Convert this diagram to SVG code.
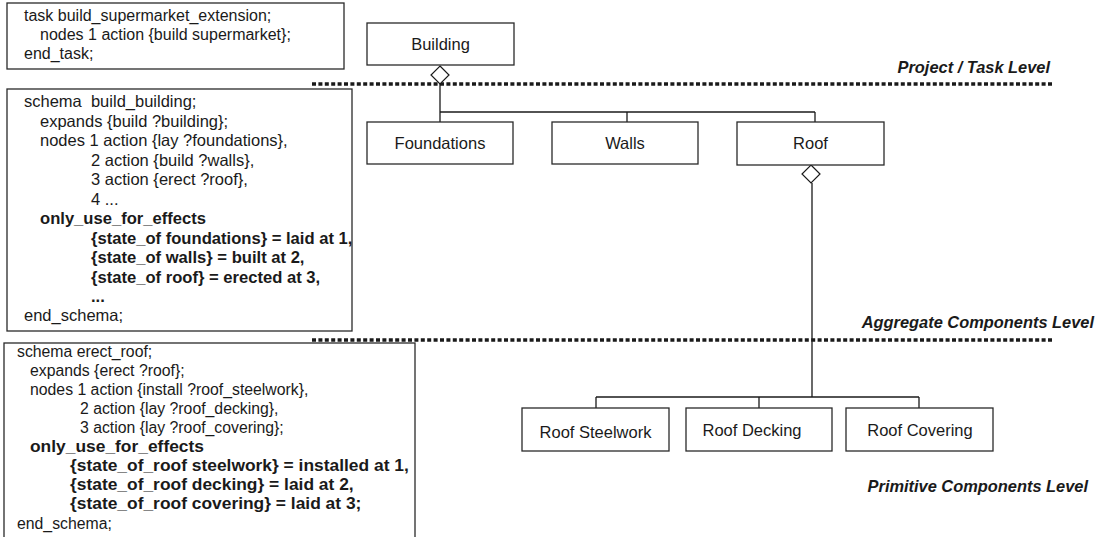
<svg xmlns="http://www.w3.org/2000/svg" width="1096" height="537" viewBox="0 0 1096 537">
<style>
.bg{fill:#ffffff}
.box{fill:#ffffff;stroke:#2a2a2a;stroke-width:1.3}
.code{font-family:"Liberation Sans",Arial,sans-serif;fill:#1a1a1a}
.b{font-weight:bold}
.node{fill:#ffffff;stroke:#2a2a2a;stroke-width:1.3}
.label{font-family:"Liberation Sans",Arial,sans-serif;font-size:16.5px;fill:#1a1a1a;text-anchor:middle}
.lvl{font-family:"Liberation Sans",Arial,sans-serif;font-size:16.4px;font-weight:bold;font-style:italic;fill:#1a1a1a;text-anchor:end}
.dot{stroke:#1a1a1a;stroke-width:3.5;stroke-dasharray:4 2.4;fill:none}
.ln{stroke:#1a1a1a;stroke-width:1.3;fill:none}
.dia{fill:#ffffff;stroke:#1a1a1a;stroke-width:1.2}
</style>
<rect class="bg" x="0" y="0" width="1096" height="537"/>

<g id="code-task">
<rect class="box" x="7" y="3" width="337" height="66"/>
<text class="code" font-size="16">
<tspan x="24" y="21">task build_supermarket_extension;</tspan>
<tspan x="40" y="40">nodes 1 action {build supermarket};</tspan>
<tspan x="24" y="59">end_task;</tspan>
</text>
</g>

<g id="code-build-building">
<rect class="box" x="7" y="89" width="345" height="242"/>
<text class="code" font-size="16.5" xml:space="preserve"><tspan x="24" y="107">schema  build_building;</tspan></text>
<text class="code" font-size="16.5">
<tspan x="40" y="126.5">expands {build ?building};</tspan>
<tspan x="40" y="146">nodes 1 action {lay ?foundations},</tspan>
<tspan x="91" y="165.5">2 action {build ?walls},</tspan>
<tspan x="91" y="185">3 action {erect ?roof},</tspan>
<tspan x="91" y="204.5">4 ...</tspan>
<tspan x="24" y="320.5">end_schema;</tspan>
</text>
<text class="code b" font-size="16.6">
<tspan x="40" y="224">only_use_for_effects</tspan>
<tspan x="91" y="243.5">{state_of foundations} = laid at 1,</tspan>
<tspan x="91" y="263">{state_of walls} = built at 2,</tspan>
<tspan x="91" y="282.5">{state_of roof} = erected at 3,</tspan>
<tspan x="91" y="302">...</tspan>
</text>
</g>

<g id="code-erect-roof">
<rect class="box" x="4" y="343" width="411" height="200"/>
<text class="code" font-size="15.8">
<tspan x="17" y="357">schema erect_roof;</tspan>
<tspan x="30" y="376">expands {erect ?roof};</tspan>
<tspan x="30" y="395">nodes 1 action {install ?roof_steelwork},</tspan>
<tspan x="80" y="414">2 action {lay ?roof_decking},</tspan>
<tspan x="80" y="433">3 action {lay ?roof_covering};</tspan>
<tspan x="17" y="528.5">end_schema;</tspan>
</text>
<text class="code b" font-size="17.4">
<tspan x="30" y="452">only_use_for_effects</tspan>
<tspan x="70" y="471">{state_of_roof steelwork} = installed at 1,</tspan>
<tspan x="70" y="490">{state_of_roof decking} = laid at 2,</tspan>
<tspan x="70" y="509">{state_of_roof covering} = laid at 3;</tspan>
</text>
</g>

<g id="levels">
<line class="dot" x1="312" y1="84" x2="1054" y2="84"/>
<line class="dot" x1="312" y1="340" x2="1054" y2="340"/>
<text class="lvl" x="1050" y="73">Project / Task Level</text>
<text class="lvl" x="1094" y="328" font-size="16.8">Aggregate Components Level</text>
<text class="lvl" x="1088" y="492">Primitive Components Level</text>
</g>

<g id="connectors">
<line class="ln" x1="440" y1="84" x2="440" y2="122"/>
<line class="ln" x1="440" y1="112" x2="815" y2="112"/>
<line class="ln" x1="627" y1="112" x2="627" y2="122"/>
<line class="ln" x1="815" y1="112" x2="815" y2="122"/>
<polygon class="dia" points="440,66 449,75 440,84 431,75"/>
<line class="ln" x1="812" y1="183" x2="812" y2="397"/>
<line class="ln" x1="596" y1="397" x2="919" y2="397"/>
<line class="ln" x1="596" y1="397" x2="596" y2="408"/>
<line class="ln" x1="759" y1="397" x2="759" y2="408"/>
<line class="ln" x1="919" y1="397" x2="919" y2="408"/>
<polygon class="dia" points="811,165 820,174 811,183 802,174"/>
</g>

<g id="node-building">
<rect class="node" x="367" y="23" width="147" height="42"/>
<text class="label" x="440.5" y="50">Building</text>
</g>
<g id="node-foundations">
<rect class="node" x="367" y="122" width="146" height="42"/>
<text class="label" x="440" y="149">Foundations</text>
</g>
<g id="node-walls">
<rect class="node" x="552" y="122" width="146" height="42"/>
<text class="label" x="625" y="149">Walls</text>
</g>
<g id="node-roof">
<rect class="node" x="737" y="122" width="147" height="43"/>
<text class="label" x="810.5" y="149">Roof</text>
</g>
<g id="node-roof-steelwork">
<rect class="node" x="522" y="408" width="147" height="43"/>
<text class="label" x="595.5" y="438">Roof Steelwork</text>
</g>
<g id="node-roof-decking">
<rect class="node" x="686" y="408" width="146" height="43"/>
<text class="label" x="752" y="436">Roof Decking</text>
</g>
<g id="node-roof-covering">
<rect class="node" x="846" y="408" width="147" height="43"/>
<text class="label" x="920" y="436">Roof Covering</text>
</g>
</svg>
